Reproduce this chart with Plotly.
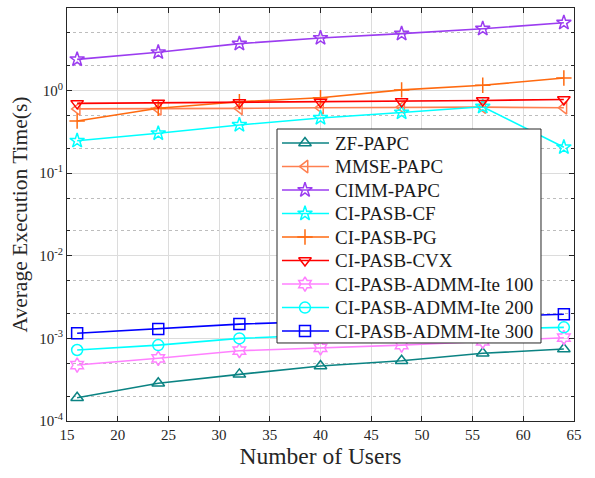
import plotly.graph_objects as go

users = [16, 24, 32, 40, 48, 56, 64]

zf_papc = [1.91e-4, 2.86e-4, 3.67e-4, 4.63e-4, 5.37e-4, 6.6e-4, 7.45e-4]
mmse_papc = [0.60, 0.60, 0.61, 0.62, 0.63, 0.63, 0.62]
cimm_papc = [2.39, 2.91, 3.70, 4.33, 4.89, 5.61, 6.64]
ci_pasb_cf = [0.247, 0.304, 0.384, 0.466, 0.543, 0.638, 0.206]
ci_pasb_pg = [0.428, 0.611, 0.734, 0.82, 1.02, 1.16, 1.42]
ci_pasb_cvx = [0.70, 0.71, 0.72, 0.73, 0.74, 0.76, 0.78]
admm_100 = [4.76e-4, 5.74e-4, 7.1e-4, 7.7e-4, 8.3e-4, 9.2e-4, 1.02e-3]
admm_200 = [7.24e-4, 8.3e-4, 1.0e-3, 1.1e-3, 1.2e-3, 1.3e-3, 1.36e-3]
admm_300 = [1.153e-3, 1.30e-3, 1.49e-3, 1.6e-3, 1.72e-3, 1.85e-3, 1.96e-3]

series = [
    ("ZF-PAPC", zf_papc, "#0b8383", "triangle-up-open"),
    ("MMSE-PAPC", mmse_papc, "#ff7f50", "triangle-left-open"),
    ("CIMM-PAPC", cimm_papc, "#9b3cf0", "star-open"),
    ("CI-PASB-CF", ci_pasb_cf, "#00ffff", "star-open"),
    ("CI-PASB-PG", ci_pasb_pg, "#ff6a10", "cross-thin-open"),
    ("CI-PASB-CVX", ci_pasb_cvx, "#ff0000", "triangle-down-open"),
    ("CI-PASB-ADMM-Ite 100", admm_100, "#ff80ff", "hexagram-open"),
    ("CI-PASB-ADMM-Ite 200", admm_200, "#00ffff", "circle-open"),
    ("CI-PASB-ADMM-Ite 300", admm_300, "#0000ff", "square-open"),
]

y_tickvals = [1e-4, 1e-3, 1e-2, 1e-1, 1, 10]
y_ticktext = ["10<sup>-4</sup>", "10<sup>-3</sup>", "10<sup>-2</sup>",
              "10<sup>-1</sup>", "10<sup>0</sup>", "10<sup>1</sup>"]
x_tickvals = list(range(15, 66, 5))

font_family = "Times New Roman, Liberation Serif, serif"
axis_color = "#262626"
marker_size = 11

fig = go.Figure()
for name, vals, color, symbol in series:
    fig.add_trace(go.Scatter(
        x=users, y=vals, name=name, mode="lines+markers", showlegend=False,
        line=dict(color=color, width=1.6),
        marker=dict(symbol=symbol, size=marker_size, color=color,
                    line=dict(color=color, width=1.5)),
    ))

# Boxed legend drawn on an overlay axis pair spanning the plot area (0..1)
box_x0, box_x1 = 0.4142, 0.9349
box_y0, box_y1 = 0.1889, 0.7070
row_top = 0.673           # centre of first legend row
row_step = 0.0569         # spacing between rows
sample_x0, sample_x1, sample_xm = 0.424, 0.5168, 0.4694
label_x = 0.5247

fig.add_trace(go.Scatter(
    x=[box_x0, box_x1, box_x1, box_x0, box_x0],
    y=[box_y0, box_y0, box_y1, box_y1, box_y0],
    mode="lines", fill="toself", fillcolor="white",
    line=dict(color="#262626", width=1),
    xaxis="x2", yaxis="y2", showlegend=False, hoverinfo="skip",
))
annotations = []
for i, (name, vals, color, symbol) in enumerate(series):
    yc = row_top - i * row_step
    fig.add_trace(go.Scatter(
        x=[sample_x0, sample_x1], y=[yc, yc], mode="lines",
        line=dict(color=color, width=1.6),
        xaxis="x2", yaxis="y2", showlegend=False, hoverinfo="skip",
    ))
    fig.add_trace(go.Scatter(
        x=[sample_xm], y=[yc], mode="markers",
        marker=dict(symbol=symbol, size=marker_size, color=color,
                    line=dict(color=color, width=1.5)),
        xaxis="x2", yaxis="y2", showlegend=False, hoverinfo="skip",
    ))
    annotations.append(dict(
        x=label_x, y=yc, xref="x2", yref="y2", text=name, showarrow=False,
        xanchor="left", yanchor="middle",
        font=dict(family=font_family, size=19, color="#1a1a1a"),
    ))

fig.update_layout(
    width=595, height=478,
    margin=dict(l=67, r=21, t=8, b=57),
    paper_bgcolor="white", plot_bgcolor="white",
    font=dict(family=font_family, color=axis_color, size=15),
    showlegend=False,
    annotations=annotations,
    xaxis=dict(
        range=[15, 65], tickvals=x_tickvals,
        showline=True, linecolor=axis_color, linewidth=1, mirror="allticks",
        ticks="inside", ticklen=5, tickcolor=axis_color,
        showgrid=True, gridcolor="#dcdcdc", gridwidth=1,
        zeroline=False,
        tickfont=dict(size=15),
        title=dict(text="Number of Users", font=dict(size=23.5), standoff=4),
    ),
    yaxis=dict(
        type="log", range=[-4, 1],
        tickvals=y_tickvals, ticktext=y_ticktext,
        showline=True, linecolor=axis_color, linewidth=1, mirror="allticks",
        ticks="inside", ticklen=5, tickcolor=axis_color,
        showgrid=True, gridcolor="#dcdcdc", gridwidth=1,
        zeroline=False,
        tickfont=dict(size=15),
        minor=dict(ticks="inside", ticklen=3, tickcolor=axis_color,
                   showgrid=True, gridcolor="#bdbdbd", griddash="dot"),
        title=dict(text="Average Execution Time(s)", font=dict(size=21.5), standoff=5),
    ),
    xaxis2=dict(overlaying="x", anchor="y2", range=[0, 1], visible=False,
                fixedrange=True),
    yaxis2=dict(overlaying="y", anchor="x2", range=[0, 1], visible=False,
                fixedrange=True),
)

fig.write_html("out.html")
